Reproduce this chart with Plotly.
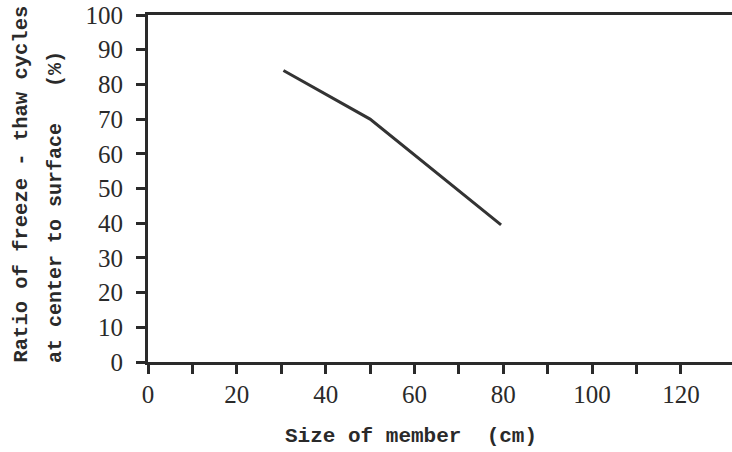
import plotly.graph_objects as go

member_size_cm = [30.5, 50, 79.5]
ratio_pct = [84, 70, 39.5]

x_tick_vals = [0, 10, 20, 30, 40, 50, 60, 70, 80, 90, 100, 110, 120]
x_tick_text = ["0", "", "20", "", "40", "", "60", "", "80", "", "100", "", "120"]
y_tick_vals = [0, 10, 20, 30, 40, 50, 60, 70, 80, 90, 100]

x_title = "Size of member\u00a0\u00a0(cm)"
y_title_line1 = "Ratio of freeze - thaw cycles"
y_title_line2 = "at center to surface\u00a0\u00a0\u00a0(%)"

ink = "#2a2a2a"
num_font = dict(family="Liberation Serif, serif", size=25, color=ink)
mono = "Liberation Mono, Courier New, monospace"

L, PW = 148, 584  # left margin and plot width in px
PH = 347

fig = go.Figure()
fig.add_trace(go.Scatter(x=member_size_cm, y=ratio_pct, mode="lines",
                         line=dict(color="#333333", width=3), showlegend=False,
                         hoverinfo="skip"))

fig.update_layout(
    width=732, height=452,
    margin=dict(l=L, r=0, t=15, b=90, autoexpand=False),
    paper_bgcolor="white", plot_bgcolor="white",
    xaxis=dict(range=[0, 131.5], tickvals=x_tick_vals, ticktext=x_tick_text,
               ticks="outside", ticklen=9, tickwidth=3, tickcolor=ink,
               showline=True, linewidth=3, linecolor=ink, mirror=True,
               showgrid=False, zeroline=False, tickfont=num_font,
               ticklabelstandoff=-1, automargin=False),
    yaxis=dict(range=[0, 100], tickvals=y_tick_vals,
               ticks="outside", ticklen=9, tickwidth=3, tickcolor=ink,
               showline=True, linewidth=3, linecolor=ink, mirror=False,
               showgrid=False, zeroline=False, tickfont=num_font,
               ticklabelstandoff=8, automargin=False),
    annotations=[
        dict(text=x_title, xref="paper", yref="paper", x=(411 - L) / PW,
             y=-(436 - 362) / PH, xanchor="center", yanchor="middle", showarrow=False,
             font=dict(family=mono, size=21, color=ink, weight="bold")),
        dict(text=y_title_line1, xref="paper", yref="paper",
             x=(21 - L) / PW, y=-3 / PH, xanchor="center", yanchor="bottom",
             textangle=-90, showarrow=False,
             font=dict(family=mono, size=20.5, color=ink, weight="bold")),
        dict(text=y_title_line2, xref="paper", yref="paper",
             x=(55 - L) / PW, y=-3 / PH, xanchor="center", yanchor="bottom",
             textangle=-90, showarrow=False,
             font=dict(family=mono, size=20, color=ink, weight="bold")),
    ],
)

fig.write_html("out.html", config={"displayModeBar": False},
               post_script="document.body.style.margin='0';document.body.style.overflow='hidden';")
